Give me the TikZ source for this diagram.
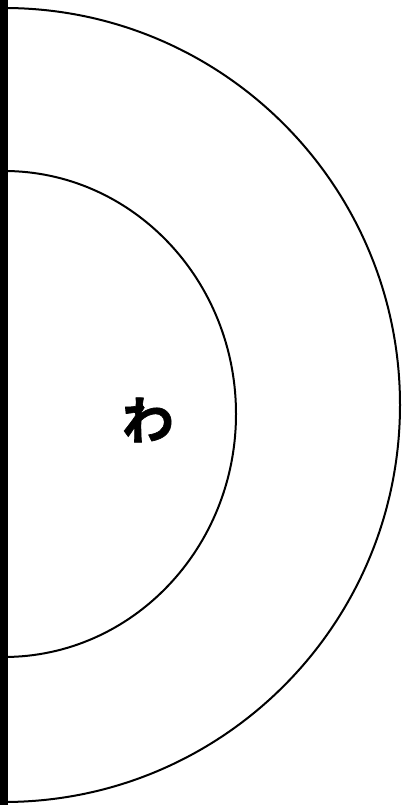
\documentclass[tikz,border=0pt]{standalone}
\usepackage{fontspec}
\newfontfamily\cjk[FakeBold=1.2]{Noto Sans CJK JP Bold}
\begin{document}
\begin{tikzpicture}[x=1pt,y=1pt,
  arcline/.style={line width=2pt,black},
  wall/.style={line width=8pt,black},
  glyph/.style={font=\cjk\fontsize{52}{52}\selectfont,inner sep=0pt}]
\useasboundingbox (0,0) rectangle (402,805);
\draw[arcline] (4,797) arc[start angle=90,end angle=-90,x radius=396,y radius=397];
\draw[arcline] (4,634) arc[start angle=90,end angle=-90,x radius=232,y radius=243];
\draw[wall] (4,0) -- (4,805);
\node[glyph] (wa) at (148,385) {わ};
\end{tikzpicture}
\end{document}
